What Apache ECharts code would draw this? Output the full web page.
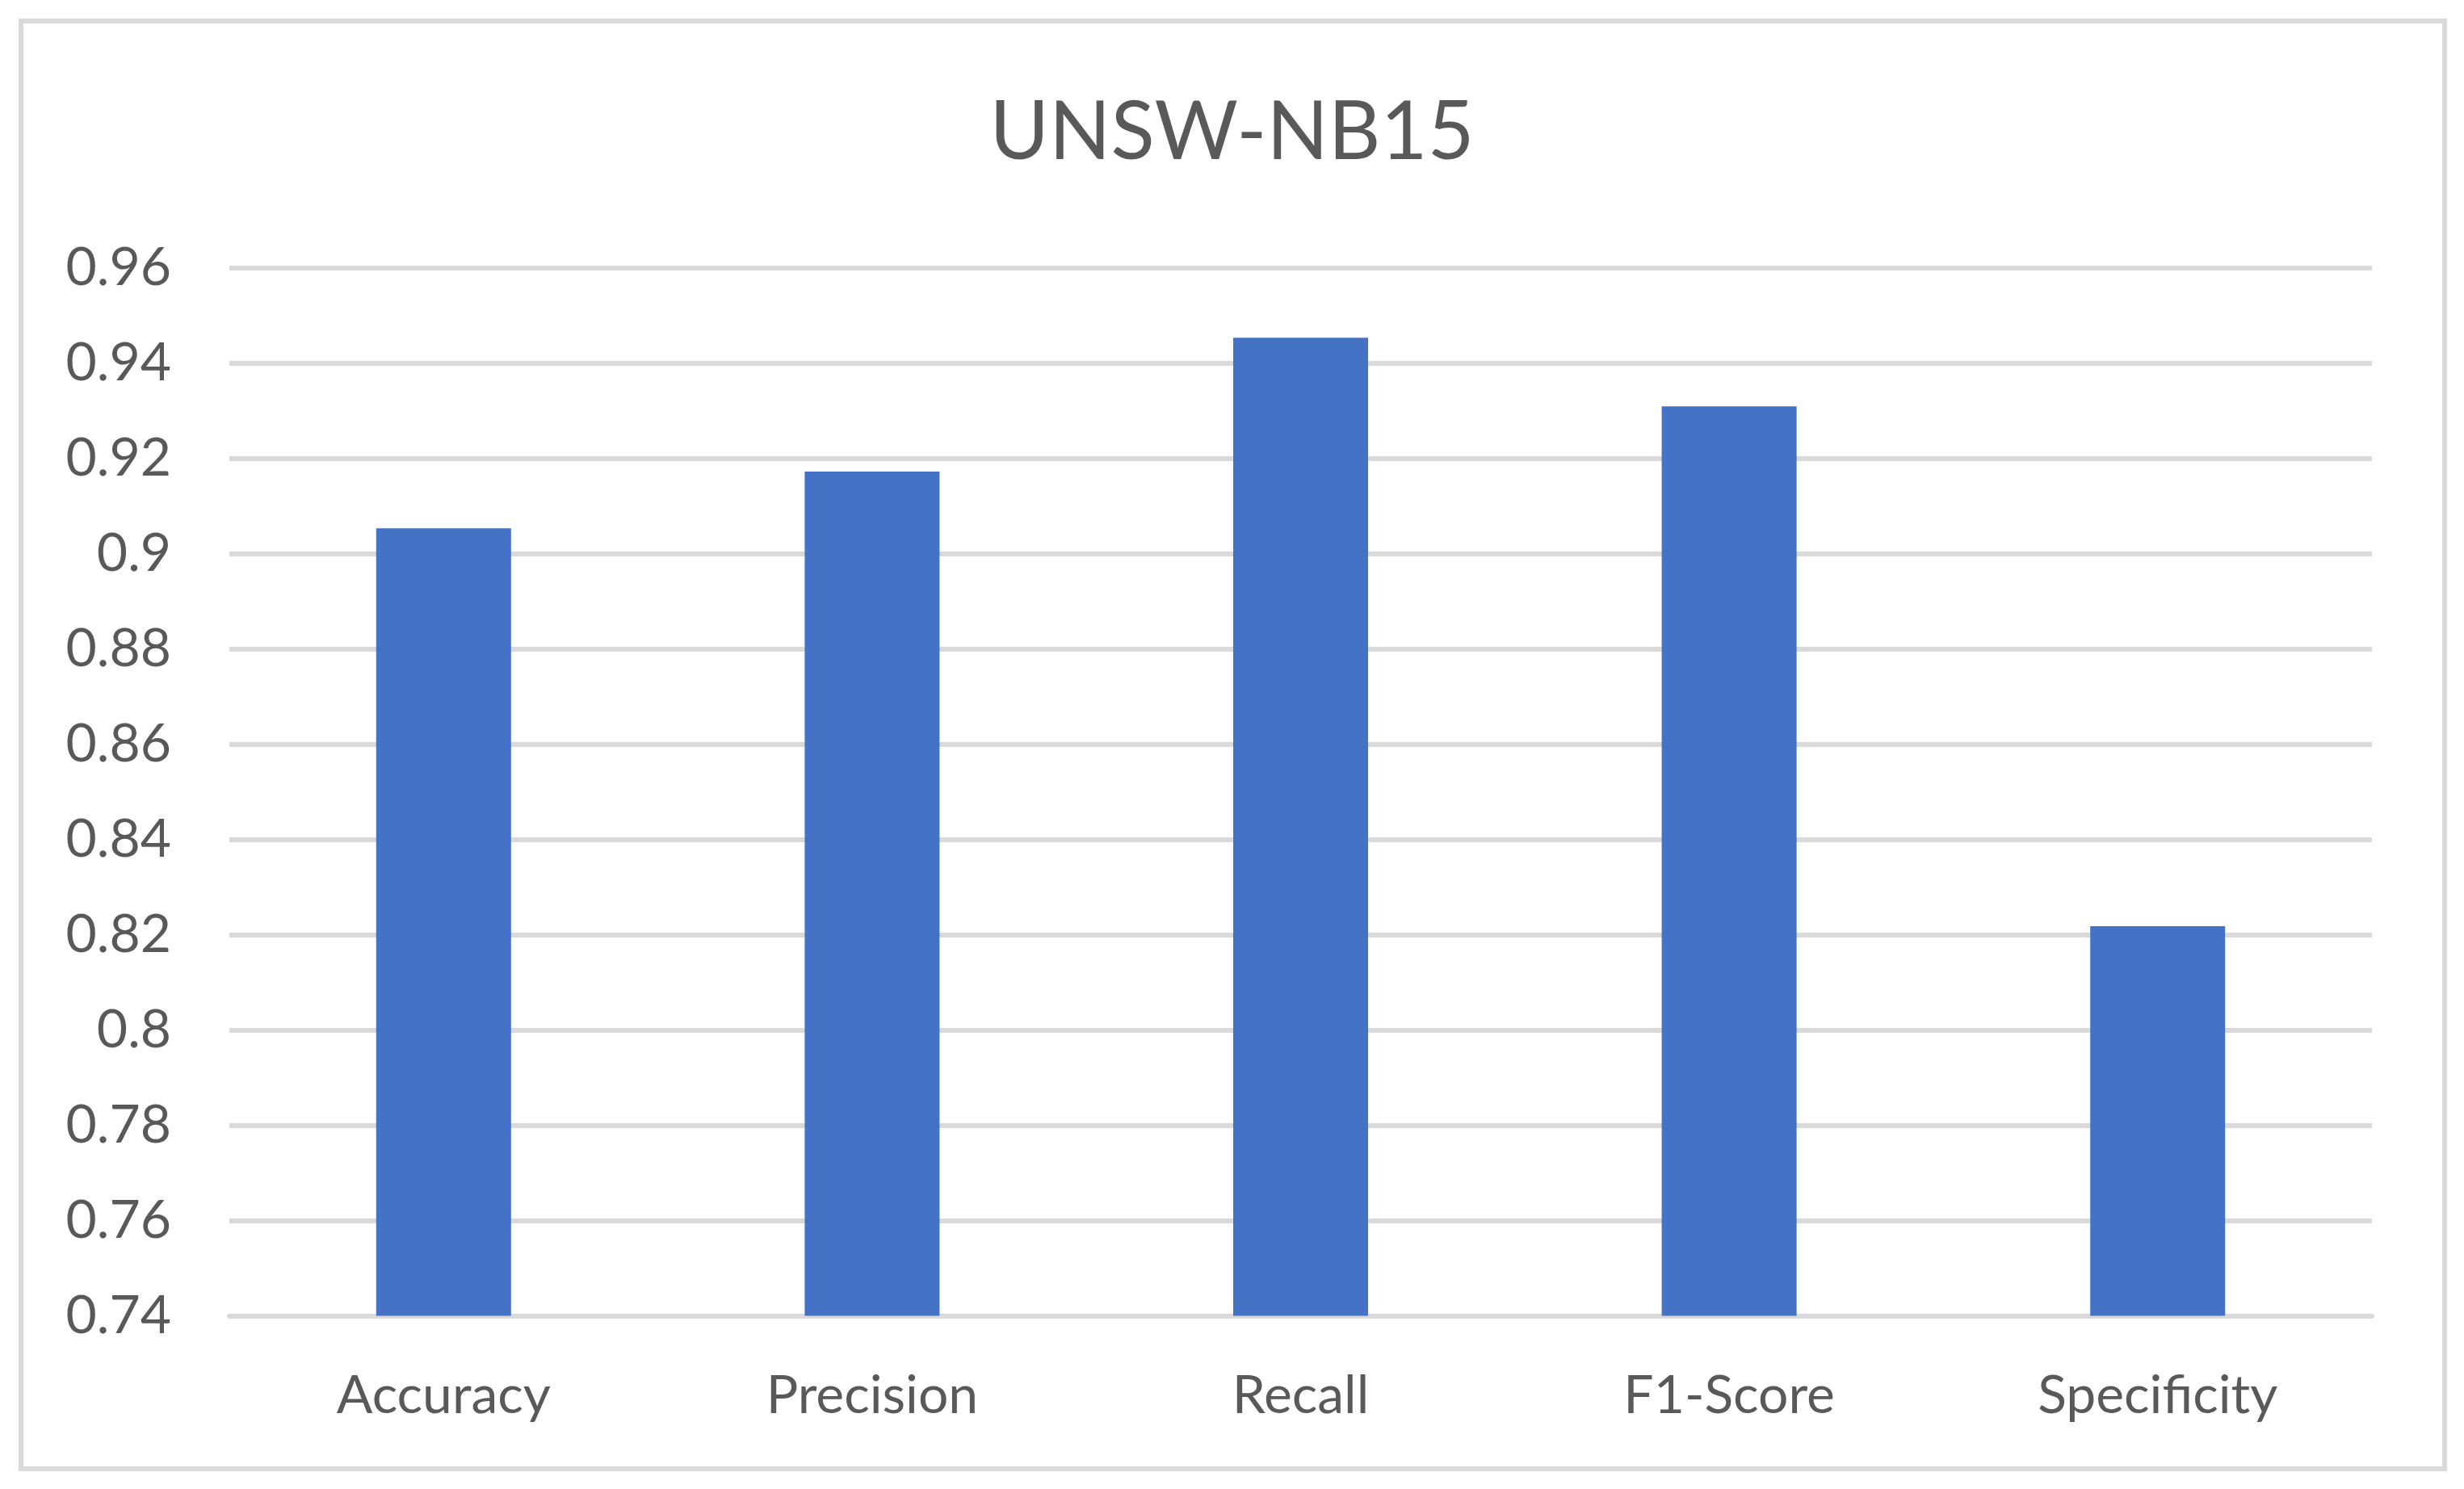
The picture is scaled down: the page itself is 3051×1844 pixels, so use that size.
<!DOCTYPE html>
<html>
<head>
<meta charset="utf-8">
<script src="https://cdn.jsdelivr.net/npm/echarts@6/dist/echarts.min.js"></script>
<style>
  html, body { margin: 0; padding: 0; background: #fff; }
  #chart { width: 3051px; height: 1844px; }
  #frame {
    position: absolute; left: 23px; top: 23px; width: 2995px; height: 1787px;
    border: 6px solid #d9d9d9; pointer-events: none;
  }
</style>
</head>
<body>
<div id="chart"></div>
<div id="frame"></div>
<script>
  // 数据
  let categories = ['Accuracy', 'Precision', 'Recall', 'F1-Score', 'Specificity'];
  let scores = [0.9053, 0.9172, 0.9453, 0.9309, 0.8218];
  let chartTitle = 'UNSW-NB15';

  let chart = echarts.init(document.getElementById('chart'));

  let option = {
    animation: false,
    textStyle: { fontFamily: 'Lato' },
    title: {
      text: chartTitle,
      left: 'center',
      top: 110,
      textStyle: { fontFamily: 'Lato', fontSize: 100, fontWeight: 'normal', color: '#595959' }
    },
    grid: {
      left: 284,
      right: 114,
      top: 331.5,
      bottom: 214.5,
      containLabel: false
    },
    xAxis: {
      type: 'category',
      data: categories,
      axisLine: { show: true, lineStyle: { color: '#d9d9d9', width: 6 } },
      axisTick: { show: false },
      axisLabel: { fontSize: 66, color: '#595959', margin: 66 }
    },
    yAxis: {
      type: 'value',
      min: 0.74,
      max: 0.96,
      interval: 0.02,
      axisLine: { show: false },
      axisTick: { show: false },
      splitLine: { lineStyle: { color: '#d9d9d9', width: 6 } },
      axisLabel: {
        fontSize: 66,
        color: '#595959',
        margin: 72,
        formatter: function (v) { return String(parseFloat(v.toFixed(2))); }
      }
    },
    series: [
      {
        type: 'bar',
        data: scores,
        barWidth: 167,
        itemStyle: { color: '#4472C4' }
      }
    ]
  };

  chart.setOption(option);
</script>
</body>
</html>
